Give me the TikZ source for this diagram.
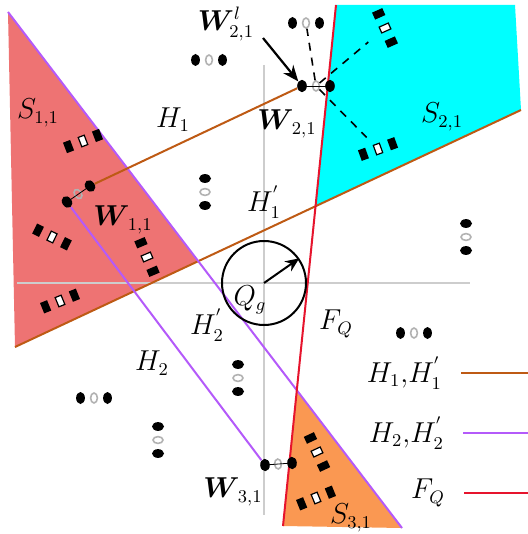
\documentclass[tikz,border=0pt]{standalone}
\usepackage{amsmath, amssymb, bm}
\usetikzlibrary{arrows.meta, positioning, calc, shapes.geometric}
\usepackage{xcolor}
\definecolor{hbrown}{RGB}{190,90,20}
\definecolor{hpurple}{RGB}{180,90,250}
\definecolor{fqred}{RGB}{230,20,45}
\definecolor{sred}{RGB}{238,115,115}
\definecolor{scyan}{RGB}{0,255,255}
\definecolor{sorange}{RGB}{250,152,82}
\definecolor{axgray}{RGB}{205,205,205}
\tikzset{
  bdot/.style={ellipse, fill=black, inner sep=0pt, minimum width=4.4pt, minimum height=6pt},
  wdot/.style={ellipse, fill=black, inner sep=0pt, minimum width=4.8pt, minimum height=6.2pt},
  rdot/.style={ellipse, draw=gray!60, line width=0.8pt, inner sep=0pt, minimum width=3.4pt, minimum height=5pt},
  bsq/.style={rectangle, fill=black, inner sep=0pt, minimum width=3.8pt, minimum height=5.6pt},
  wsq/.style={rectangle, draw=black, fill=white, line width=0.6pt, inner sep=0pt, minimum width=3.2pt, minimum height=5pt},
  lbl/.style={font=\fontsize{13.5}{16}\selectfont},
  bound/.style={line width=1pt},
}

\begin{document}
\begin{tikzpicture}[x=0.5pt, y=-0.5pt]
  \useasboundingbox (0,0) rectangle (528,534);
  % boundary end points
  \coordinate (h1a) at (15,347);
  \coordinate (h1b) at (521,110);
  \coordinate (h2a) at (8,12);
  \coordinate (h2b) at (402,528);
  \coordinate (fqa) at (336,5);
  \coordinate (fqb) at (283,526);
  \coordinate (i12) at (intersection of h1a--h1b and h2a--h2b);
  \coordinate (i1f) at (intersection of h1a--h1b and fqa--fqb);
  \coordinate (i2f) at (intersection of h2a--h2b and fqa--fqb);
  % regions
  \fill[sred] (h2a) -- (h1a) -- (i12) -- cycle;
  \fill[scyan] (fqa) -- (515,5) -- (h1b) -- (i1f) -- cycle;
  \fill[sorange] (i2f) -- (h2b) -- (fqb) -- cycle;
  % axes
  \draw[axgray, line width=1pt] (17,283) -- (470,283);
  \draw[axgray, line width=1pt] (264,65) -- (264,515);
  % boundaries
  \draw[bound, hbrown] (h1a) -- (h1b);
  \draw[bound, hpurple] (h2a) -- (h2b);
  \draw[bound, fqred] (fqa) -- (fqb);

  % the W dumbbells
  \node[rdot] (w21-r) at (316,86) {};
  \node[wdot] (w21-a) at (302,86) {};
  \node[wdot] (w21-b) at (330,86) {};
  \node[rdot, rotate=35] (w11-r) at (78,194) {};
  \node[wdot, rotate=35] (w11-a) at (67,202) {};
  \node[wdot, rotate=35] (w11-b) at (90,186) {};
  \node[rdot, rotate=4] (w31-r) at (278,464) {};
  \node[wdot, rotate=4] (w31-a) at (265,465) {};
  \node[wdot, rotate=4] (w31-b) at (292,463) {};
  \draw[thin] (w21-a.center) -- (w21-b.center);
  \draw[thin] (w11-a.center) -- (w11-b.center);
  \draw[thin] (w31-a.center) -- (w31-b.center);
  \draw[bound, hbrown] (w11-b) -- (w21-a);
  \draw[bound, hpurple] (w11-a) -- (w31-a);

  % dot triplets
  \foreach \n/\x/\y/\a in {t1/306/23/0, t2/209/60/0, t3/414/333/0, t4/94/398/0,
      t5/205/192/90, t6/466/237/90, t7/238/378/90, t8/158/440/90} {
    \node[rdot, rotate=-\a] (\n-b) at (\x,\y) {};
    \node[bdot, rotate=-\a] (\n-a) at ($(\x,\y)+(\a:-13.5)$) {};
    \node[bdot, rotate=-\a] (\n-c) at ($(\x,\y)+(\a:13.5)$) {};
  }
  % square triplets
  \foreach \n/\x/\y/\a in {q1/83/141/-21, q2/52/237/26, q3/147/257/67, q4/60/301/-22,
      q5/385/28/66, q6/378/149/-20, q7/317/452/65, q8/316/498/-22} {
    \node[wsq, rotate=-\a] (\n-b) at (\x,\y) {};
    \node[bsq, rotate=-\a] (\n-a) at ($(\x,\y)+(\a:-15.5)$) {};
    \node[bsq, rotate=-\a] (\n-c) at ($(\x,\y)+(\a:15.5)$) {};
  }

  % links from W_{2,1}
  \draw[dash pattern=on 4pt off 3.5pt, line width=0.8pt] (w21-r) -- (t1-b);
  \draw[dash pattern=on 4pt off 3.5pt, line width=0.8pt, shorten >=8pt] (w21-r) -- (q5-b);
  \draw[dash pattern=on 4pt off 3.5pt, line width=0.8pt, shorten >=5pt] (w21-r) -- (q6-b);

  % Q_g
  \node[circle, draw, line width=1pt, minimum size=42pt, inner sep=0pt] (qg) at (264,283) {};
  \draw[-{Stealth[length=7pt,width=6pt]}, line width=1pt] (qg.center) -- (qg.35);

  % labels
  \node[lbl] (wl) at (226,24) {$\boldsymbol{W}^{l}_{2,1}$};
  \coordinate (wl-tail) at (263,38);
  \draw[-{Stealth[length=8pt,width=6.5pt]}, line width=1.1pt] (wl-tail) -- (w21-a);
  \node[lbl] (s11) at (38,113) {$S_{1,1}$};
  \node[lbl] (h1l) at (173,120) {$H_1$};
  \node[lbl] (w21l) at (287,124) {$\boldsymbol{W}_{\,2,1}$};
  \node[lbl] (s21) at (442,117) {$S_{2,1}$};
  \node[lbl] (h1p) at (264,202) {$H^{'}_1$};
  \node[lbl] (w11l) at (123,220) {$\boldsymbol{W}_{\,1,1}$};
  \node[lbl] (qgl) at (250,300) {$Q_g$};
  \node[lbl] (h2p) at (207,325) {$H^{'}_2$};
  \node[lbl] (fql) at (336,324) {$F_Q$};
  \node[lbl] (h2l) at (152,363) {$H_2$};
  \node[lbl] (w31l) at (233,492) {$\boldsymbol{W}_{\,3,1}$};
  \node[lbl] (s31) at (351,518) {$S_{3,1}$};

  % legend
  \node[lbl, left] (lg1) at (449,373) {$H_1{,}H^{'}_1$};
  \node[lbl, left] (lg2) at (451,433) {$H_2{,}H^{'}_2$};
  \node[lbl, left] (lg3) at (452,493) {$F_Q$};
  \coordinate (lg1-end) at (528,373);
  \coordinate (lg2-end) at (528,433);
  \coordinate (lg3-end) at (528,493);
  \draw[hbrown, line width=1.4pt, shorten <=6pt] (lg1.east) -- (lg1-end);
  \draw[hpurple, line width=1.4pt, shorten <=6pt] (lg2.east) -- (lg2-end);
  \draw[fqred, line width=1.4pt, shorten <=6pt] (lg3.east) -- (lg3-end);
\end{tikzpicture}
\end{document}
